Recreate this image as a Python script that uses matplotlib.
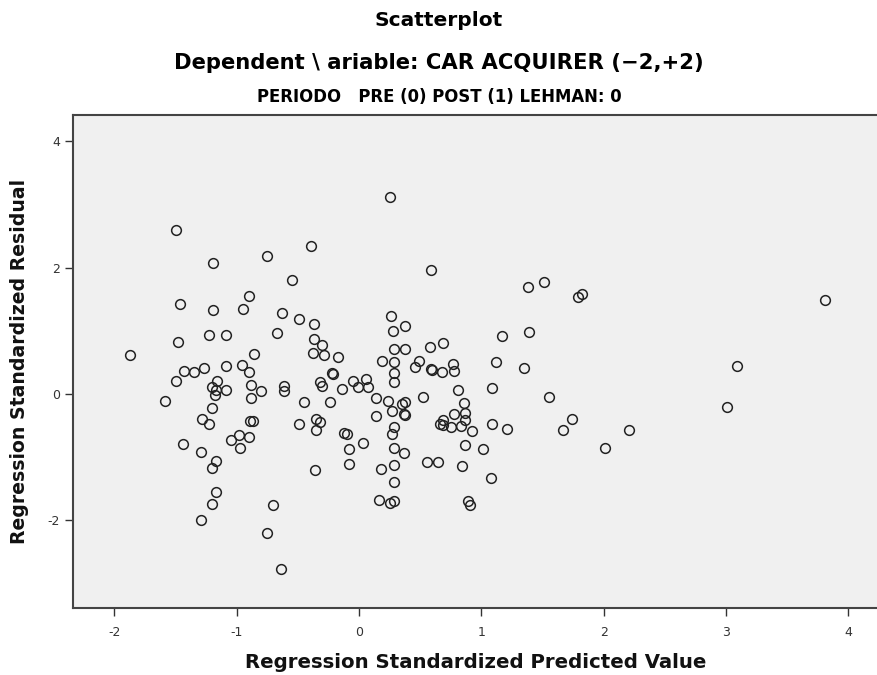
#!/usr/bin/env python3
# Residual scatterplot, SPSS style
import matplotlib
matplotlib.use("Agg")
import matplotlib.pyplot as plt

# Standardized predicted values (x) and standardized residuals (y)
pred_left = [-1.50, -1.19, -0.75, -0.90, -1.46, -1.19, -0.95, -1.23, -1.09, -1.48,
             -1.875, -0.86, -1.43, -1.35, -1.27, -1.09, -0.96, -0.90, -1.50, -0.88,
             -0.80, -1.16, -1.20, -1.17, -1.09, -1.59, -1.18, -0.88, -1.20, -1.28,
             -1.23, -0.89, -0.87, -0.98, -1.05, -0.90, -0.97, -1.44, -1.29, -1.17,
             -1.20, -1.17, -1.20, -1.29, -0.70, -0.75, -0.64]
resid_left = [2.59, 2.07, 2.18, 1.55, 1.42, 1.33, 1.34, 0.93, 0.94, 0.83,
              0.61, 0.63, 0.36, 0.35, 0.41, 0.44, 0.46, 0.35, 0.21, 0.15,
              0.05, 0.21, 0.11, 0.06, 0.06, -0.11, -0.02, -0.07, -0.22, -0.40,
              -0.47, -0.43, -0.43, -0.65, -0.73, -0.68, -0.86, -0.79, -0.91, -1.06,
              -1.17, -1.55, -1.74, -1.99, -1.76, -2.20, -2.77]

pred_mid = [0.25, -0.39, 0.59, -0.55, -0.63, -0.49, -0.37, -0.67, 0.26, 0.38,
            0.28, -0.37, -0.30, -0.38, -0.29, -0.17, 0.29, 0.38, 0.58, 0.19,
            0.29, 0.49, 0.46, 0.59, 0.60, -0.22, -0.21, 0.29, 0.29, -0.32,
            -0.30, -0.05, -0.01, 0.06, 0.07, -0.14, -0.61, -0.61, 0.14, 0.24,
            0.38, 0.52, -0.45, -0.24, 0.27, 0.35, 0.37, 0.38, 0.14, -0.49,
            -0.35, -0.32, -0.35, -0.12, -0.10, 0.03, -0.08, -0.08, 0.29, 0.27,
            0.29, 0.37, 0.29, 0.18, 0.29, 0.16, 0.25, 0.29, -0.36, 0.56,
            0.65]
resid_mid = [3.12, 2.35, 1.96, 1.80, 1.28, 1.19, 1.10, 0.97, 1.24, 1.08,
             0.99, 0.87, 0.77, 0.65, 0.61, 0.58, 0.71, 0.71, 0.74, 0.53,
             0.51, 0.53, 0.42, 0.40, 0.38, 0.34, 0.32, 0.33, 0.19, 0.19,
             0.12, 0.21, 0.11, 0.24, 0.11, 0.08, 0.13, 0.05, -0.07, -0.11,
             -0.13, -0.05, -0.12, -0.12, -0.27, -0.16, -0.32, -0.33, -0.35, -0.48,
             -0.40, -0.44, -0.57, -0.61, -0.64, -0.77, -0.87, -1.10, -0.52, -0.64,
             -0.86, -0.93, -1.13, -1.19, -1.40, -1.67, -1.73, -1.70, -1.20, -1.08,
             -1.07]

pred_right = [1.38, 1.51, 1.79, 1.82, 1.17, 1.39, 0.69, 1.12, 1.35, 0.68,
              0.77, 0.78, 0.81, 1.09, 1.55, 0.86, 0.87, 0.87, 0.78, 0.69,
              0.66, 0.69, 0.75, 0.83, 0.92, 1.09, 1.21, 1.74, 1.67, 2.21,
              0.87, 1.01, 2.01, 0.84, 1.08, 0.89, 0.91, 3.81, 3.09, 3.01]
resid_right = [1.69, 1.78, 1.53, 1.59, 0.92, 0.98, 0.80, 0.50, 0.41, 0.35,
               0.47, 0.37, 0.06, 0.09, -0.04, -0.15, -0.30, -0.41, -0.31, -0.41,
               -0.47, -0.49, -0.53, -0.51, -0.59, -0.47, -0.55, -0.40, -0.57, -0.57,
               -0.80, -0.87, -0.85, -1.14, -1.33, -1.70, -1.76, 1.48, 0.45, -0.21]

x_ticks = [-2, -1, 0, 1, 2, 3, 4]
y_ticks = [-2, 0, 2, 4]


def graph(output="out.png"):
    plt.rcParams['font.family'] = ["DejaVu Sans"]
    plt.rcParams['axes.unicode_minus'] = False
    fig = plt.figure(figsize=(8.78, 6.75), dpi=100)
    ax = fig.add_axes([0.0831, 0.0993, 0.9169, 0.7303])
    ax.set_facecolor("#f0f0f0")

    pred = pred_left + pred_mid + pred_right
    resid = resid_left + resid_mid + resid_right
    ax.plot(pred, resid, linestyle="none", marker="o", markersize=7,
            markerfacecolor="none", markeredgecolor="#222222", markeredgewidth=1.1)

    ax.set_xlim(-2.339, 4.244)
    ax.set_ylim(-3.386, 4.415)
    ax.set_xticks(x_ticks)
    ax.set_yticks(y_ticks)
    ax.tick_params(direction="out", length=6, width=1, color="#333333",
                   labelsize=9, labelcolor="#333333")
    ax.tick_params(axis="x", pad=7)
    for side in ("left", "bottom", "top"):
        ax.spines[side].set_color("#444444")
        ax.spines[side].set_linewidth(1.5)
    ax.spines["right"].set_visible(False)

    ax.set_xlabel("Regression Standardized Predicted Value", fontsize=14.2,
                  fontweight="bold", color="#111111", labelpad=10)
    ax.set_ylabel("Regression Standardized Residual", fontsize=13.6,
                  fontweight="bold", color="#111111", labelpad=13)

    fig.text(0.5, 1 - 21 / 675, "Scatterplot", ha="center", va="center",
             fontsize=14.5, fontweight="bold")
    fig.text(0.5, 1 - 63 / 675, "Dependent \\ ariable: CAR ACQUIRER (\u22122,+2)",
             ha="center", va="center", fontsize=15.2, fontweight="bold")
    fig.text(0.5, 1 - 97 / 675, "PERIODO   PRE (0) POST (1) LEHMAN: 0",
             ha="center", va="center", fontsize=11.9, fontweight="bold")

    fig.savefig(output, dpi=100)
    print(f"Saved to {output}")


if __name__ == '__main__':
    graph()
